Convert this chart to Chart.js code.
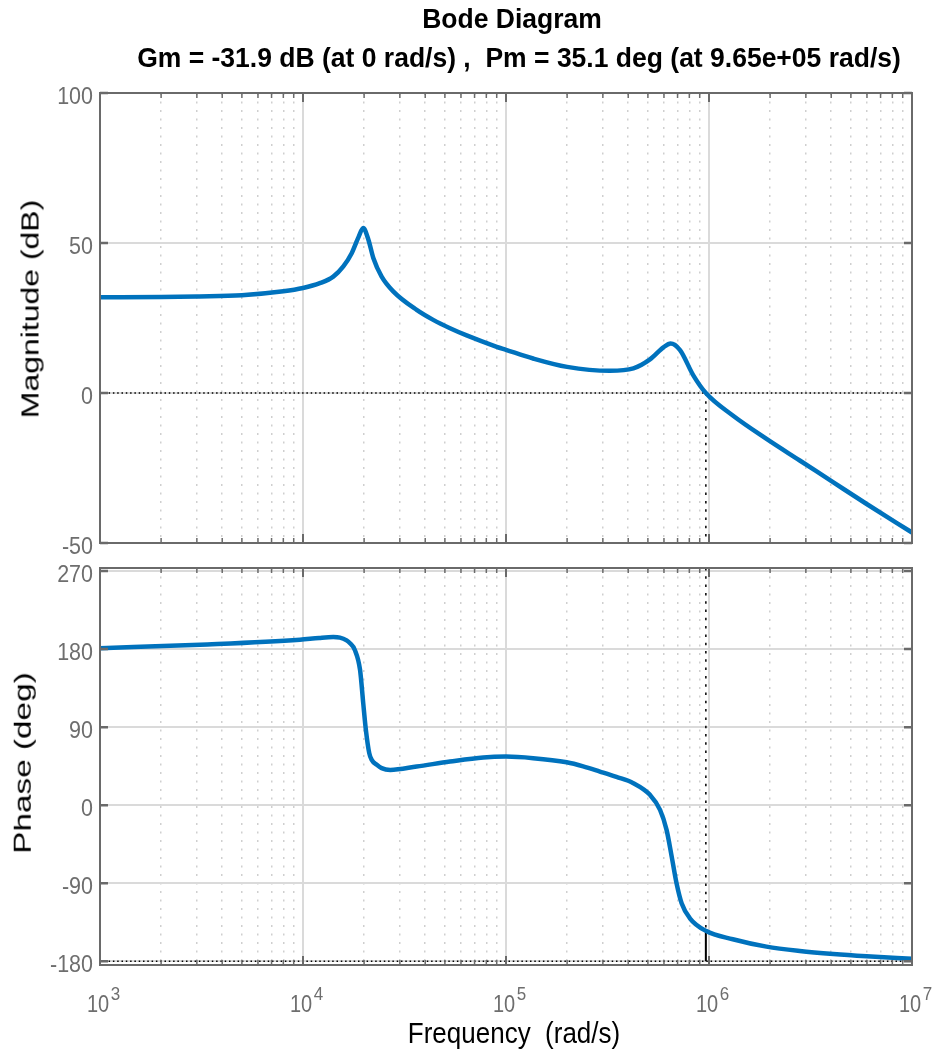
<!DOCTYPE html>
<html>
<head>
<meta charset="utf-8">
<script src="https://cdn.jsdelivr.net/npm/chart.js@4.4.1/dist/chart.umd.min.js"></script>
<style>
    body { margin: 0; width: 935px; height: 1059px; position: relative; background: #fff; overflow: hidden;
           font-family: "Liberation Sans", Arial, sans-serif; }
    canvas { position: absolute; left: 0; }
    .txt { position: absolute; white-space: pre; line-height: 1; color: #000; }
</style>
</head>
<body>
<canvas id="magChart" width="935" height="555" style="top:0"></canvas>
<canvas id="phaseChart" width="935" height="504" style="top:555px"></canvas>

<div class="txt" style="left:512px;top:19px;font-size:26.5px;font-weight:bold;transform:translate(-50%,-50%) scaleY(1.05)">Bode Diagram</div>
<div class="txt" style="left:519px;top:57.5px;font-size:26.5px;font-weight:bold;transform:translate(-50%,-50%) scaleY(1.05)">Gm = -31.9 dB (at 0 rad/s) ,  Pm = 35.1 deg (at 9.65e+05 rad/s)</div>
<div class="txt" style="left:30.5px;top:309px;font-size:23px;transform:translate(-50%,-50%) rotate(-90deg) scaleX(1.39)">Magnitude (dB)</div>
<div class="txt" style="left:22.5px;top:762.5px;font-size:24.5px;transform:translate(-50%,-50%) rotate(-90deg) scaleX(1.36)">Phase (deg)</div>
<div class="txt" style="left:514px;top:1032.5px;font-size:26px;transform:translate(-50%,-50%) scaleY(1.16)">Frequency  (rad/s)</div>

<script>
// Bode data (frequency in rad/s)
const magFreq = [1e3, 2e3, 3e3, 5e3, 8e3, 1e4, 1.21e4, 1.41e4, 1.58e4, 1.74e4, 1.87e4, 1.98e4, 2.10e4, 2.22e4,
                 2.44e4, 2.79e4, 3.63e4, 4.4e4, 5.3e4, 6.4e4, 9.0e4, 1e5, 1.36e5, 2.0e5, 3.25e5, 4.24e5,
                 5.12e5, 5.96e5, 6.47e5, 7.2e5, 8.37e5, 9.65e5, 1.31e6, 1.92e6, 2.8e6, 4.1e6, 5.98e6, 1e7];
const magDb = [31.9, 32.0, 32.2, 32.6, 33.9, 35.0, 36.6, 38.8, 42.2, 46.7, 51.7, 55.0, 51.1, 45.0,
               38.8, 33.8, 27.7, 24.3, 21.6, 19.2, 15.4, 14.4, 11.5, 8.7, 7.4, 8.2,
               11.2, 15.2, 16.5, 14.3, 5.9, 0, -7.5, -15.3, -22.5, -29.8, -37.0, -46.5];

const phaseFreq = [1e3, 3.11e3, 9.66e3, 1.2e4, 1.41e4, 1.52e4, 1.64e4, 1.70e4, 1.80e4, 1.91e4, 1.98e4, 2.04e4,
                   2.12e4, 2.18e4, 2.31e4, 2.44e4, 2.69e4, 3.63e4, 5.3e4, 7.73e4, 1e5, 1.36e5, 1.99e5, 2.4e5,
                   2.9e5, 3.5e5, 4.24e5, 5.12e5, 5.74e5, 6.18e5, 6.55e5, 6.92e5, 7.33e5, 8.05e5, 9.65e5,
                   1.31e6, 1.92e6, 2.8e6, 4.1e6, 5.98e6, 1e7];
const phaseDeg = [181, 185, 190.7, 192.8, 193.8, 193.2, 190, 187, 179, 156, 117.7, 87,
                  60, 52.3, 46.5, 42.7, 40.7, 44.6, 50.3, 55, 56, 54.2, 49.4, 44.8,
                  38.8, 32.6, 25.4, 11.9, -5.4, -28.5, -59.3, -90, -113, -130.4, -144.9,
                  -154.6, -163.1, -168.1, -171.6, -174.2, -177];

const decadeTicks = [1e3, 1e4, 1e5, 1e6, 1e7];
const minorMult = [2, 3, 4, 5, 6, 7, 8, 9];
const magTicks = [-50, 0, 50, 100];
const phaseTicks = [-180, -90, 0, 90, 180, 270];

const crossFreq = 9.65e5;   // gain crossover
const phaseMargin = 35.1;

const LINE_BLUE = '#0072BD';
const AXIS_GREY = '#6a6a6a';
const LABEL_GREY = '#6e6e6e';

const minorTicks = [];
decadeTicks.slice(0, -1).forEach(d => minorMult.forEach(m => minorTicks.push(d * m)));

// draws box, inward tick marks and tick labels from the chart's own scales
const framePlugin = {
    id: 'frame',
    afterDraw(chart) {
        const { ctx, chartArea: a, scales } = chart;
        ctx.save();
        ctx.strokeStyle = AXIS_GREY;
        ctx.lineWidth = 2;
        const vtick = (px, len) => {
            ctx.beginPath();
            ctx.moveTo(px, a.bottom); ctx.lineTo(px, a.bottom - len);
            ctx.moveTo(px, a.top); ctx.lineTo(px, a.top + len);
            ctx.stroke();
        };
        scales.x.ticks.forEach(t => vtick(scales.x.getPixelForValue(t.value), 9));
        ctx.lineWidth = 1.5;
        scales.xm.ticks.forEach(t => vtick(scales.xm.getPixelForValue(t.value), 5));
        ctx.lineWidth = 2.5;
        scales.y.ticks.forEach(t => {
            const py = scales.y.getPixelForValue(t.value);
            ctx.beginPath();
            ctx.moveTo(a.left, py); ctx.lineTo(a.left + 8, py);
            ctx.moveTo(a.right, py); ctx.lineTo(a.right - 8, py);
            ctx.stroke();
        });
        ctx.lineWidth = 2;
        ctx.strokeRect(a.left, a.top, a.right - a.left, a.bottom - a.top);

        // y tick labels
        ctx.fillStyle = LABEL_GREY;
        ctx.textAlign = 'right';
        ctx.textBaseline = 'alphabetic';
        const ySize = 21.5;
        ctx.font = ySize + 'px "Liberation Sans", Arial, sans-serif';
        scales.y.ticks.forEach(t => {
            const py = scales.y.getPixelForValue(t.value) + 2;
            ctx.save();
            ctx.translate(93, py + 0.358 * ySize * 1.11);
            ctx.scale(1, 1.11);
            ctx.fillText(String(t.value), 0, 0);
            ctx.restore();
        });

        // x tick labels as 10^n, bottom plot only
        if (chart.options.plugins.frame.xLabels) {
            ctx.textAlign = 'left';
            scales.x.ticks.forEach(t => {
                const px = scales.x.getPixelForValue(t.value);
                const exp = String(Math.round(Math.log10(t.value)));
                ctx.save();
                ctx.font = '20px "Liberation Sans", Arial, sans-serif';
                const w = ctx.measureText('10').width;
                ctx.translate(px - 13, 456.7);
                ctx.scale(1, 1.17);
                ctx.fillText('10', 0, 0);
                ctx.restore();
                ctx.save();
                ctx.font = '17px "Liberation Sans", Arial, sans-serif';
                ctx.translate(px - 13 + w + 1.5, 445);
                ctx.scale(1, 1.1);
                ctx.fillText(exp, 0, 0);
                ctx.restore();
            });
        }
        ctx.restore();
    }
};

function makeOptions(yMin, yMax, yTicks, padding, xHeight, xLabels) {
    return {
        responsive: false,
        devicePixelRatio: 1,
        animation: false,
        layout: { padding: padding, autoPadding: false },
        plugins: {
            legend: { display: false },
            tooltip: { enabled: false },
            frame: { xLabels: xLabels }
        },
        scales: {
            x: {
                type: 'logarithmic',
                min: 1e3, max: 1e7,
                position: 'bottom',
                afterBuildTicks: s => { s.ticks = decadeTicks.map(v => ({ value: v, major: true })); },
                afterFit: s => { s.height = xHeight; },
                ticks: { display: false },
                grid: { color: '#dadada', lineWidth: 2, drawTicks: false },
                border: { display: false }
            },
            xm: {
                type: 'logarithmic',
                min: 1e3, max: 1e7,
                position: 'bottom',
                afterBuildTicks: s => { s.ticks = minorTicks.map(v => ({ value: v })); },
                afterFit: s => { s.height = 0; },
                ticks: { display: false },
                grid: { color: '#cfcfcf', lineWidth: 1.5, drawTicks: false },
                border: { display: false, dash: [2, 6.5] }
            },
            y: {
                min: yMin, max: yMax,
                afterBuildTicks: s => { s.ticks = yTicks.map(v => ({ value: v })); },
                afterFit: s => { s.width = 100; },
                ticks: { display: false },
                grid: { color: '#dadada', lineWidth: 2, drawTicks: false },
                border: { display: false }
            }
        }
    };
}

const dotted = { borderColor: '#000', borderWidth: 1.5, pointRadius: 0, order: 1 };
const pts = (xs, ys) => xs.map((x, i) => ({ x: x, y: ys[i] }));

new Chart(document.getElementById('magChart'), {
    type: 'line',
    data: {
        datasets: [
            { data: pts(magFreq, magDb), borderColor: LINE_BLUE, borderWidth: 4.5, pointRadius: 0,
              cubicInterpolationMode: 'monotone', order: 0 },
            { ...dotted, data: [{ x: 1e3, y: 0 }, { x: 1e7, y: 0 }], borderDash: [1.5, 2.8] },
            { ...dotted, data: [{ x: crossFreq, y: 0 }, { x: crossFreq, y: -50 }], borderDash: [2.5, 5.8] }
        ]
    },
    options: makeOptions(-50, 100, magTicks, { left: 0, right: 23, top: 93, bottom: 12 }, 0, false),
    plugins: [framePlugin]
});

new Chart(document.getElementById('phaseChart'), {
    type: 'line',
    data: {
        datasets: [
            { data: pts(phaseFreq, phaseDeg), borderColor: LINE_BLUE, borderWidth: 4.5, pointRadius: 0,
              cubicInterpolationMode: 'monotone', order: 0 },
            { ...dotted, data: [{ x: 1e3, y: -180 }, { x: 1e7, y: -180 }], borderDash: [1.5, 2.8] },
            { ...dotted, data: [{ x: crossFreq, y: 273.5 }, { x: crossFreq, y: phaseMargin - 180 }], borderDash: [2.5, 5.8] },
            { ...dotted, data: [{ x: crossFreq, y: phaseMargin - 180 }, { x: crossFreq, y: -180 }], borderWidth: 2 }
        ]
    },
    options: makeOptions(-184.3, 273.5, phaseTicks, { left: 0, right: 23, top: 13, bottom: 0 }, 94, true),
    plugins: [framePlugin]
});
</script>
</body>
</html>
